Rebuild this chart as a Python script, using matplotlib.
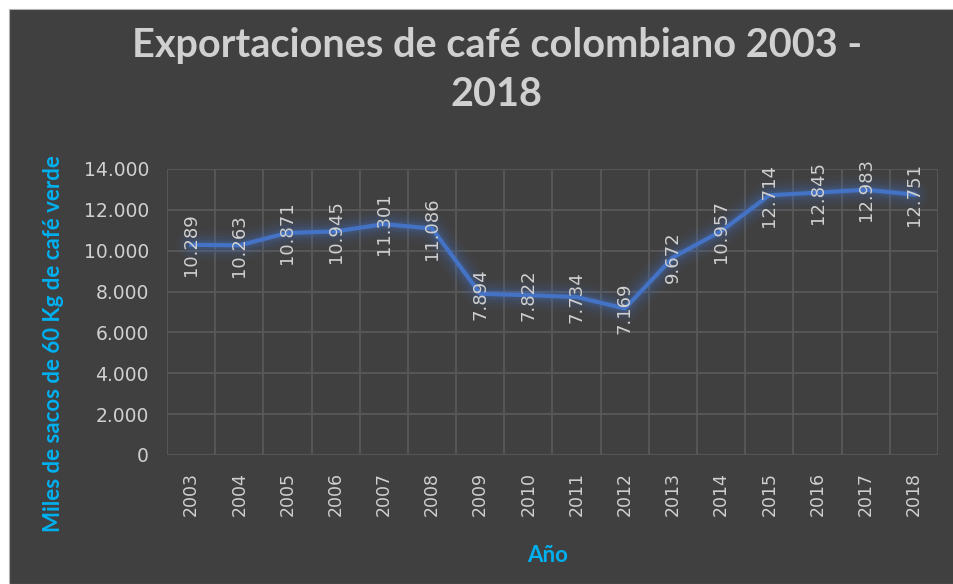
import matplotlib
matplotlib.use("Agg")
import matplotlib.pyplot as plt
from matplotlib.patches import Rectangle
from matplotlib.ticker import FixedLocator, FuncFormatter

# Exportaciones de café colombiano (miles de sacos de 60 Kg)
YEARS = [2003, 2004, 2005, 2006, 2007, 2008, 2009, 2010,
         2011, 2012, 2013, 2014, 2015, 2016, 2017, 2018]
EXPORTS = [10289, 10263, 10871, 10945, 11301, 11086, 7894, 7822,
           7734, 7169, 9672, 10957, 12714, 12845, 12983, 12751]
Y_TICKS = [0, 2000, 4000, 6000, 8000, 10000, 12000, 14000]

BG = "#404040"
GRID = "#595959"
TXT = "#d0d0d0"
LINE = "#4472c4"
AXLBL = "#00b0f0"


def miles(v):
    return f"{int(v):,}".replace(",", ".")


fig = plt.figure(figsize=(9.54, 5.84), dpi=100, facecolor="white")
W, H = 954, 584

# dark chart area with a thin border (white strip top/left like the screenshot)
fig.patches.append(Rectangle((9 / W, 0), 1 - 9 / W, 1 - 9 / H,
                             transform=fig.transFigure, facecolor=BG,
                             edgecolor="#b0b0b0", lw=0.8, zorder=-10))

ax = fig.add_axes([167 / W, 1 - 455 / H, (938 - 167) / W, (455 - 169) / H])
ax.set_facecolor(BG)
x = list(range(len(YEARS)))

# soft glow around the line
for lw, a in [(22, 0.05), (17, 0.06), (13, 0.08), (9, 0.12), (6, 0.16)]:
    ax.plot(x, EXPORTS, color=LINE, lw=lw, alpha=a, solid_capstyle="round",
            solid_joinstyle="round", zorder=2)
ax.plot(x, EXPORTS, color=LINE, lw=3, solid_joinstyle="round", zorder=3)

for xi, v in zip(x, EXPORTS):
    ax.text(xi, v, miles(v), rotation=90, ha="center", va="center",
            color=TXT, fontsize=13, family="DejaVu Sans", zorder=4)

ax.set_xlim(-0.5, len(YEARS) - 0.5)
ax.set_ylim(0, 14000)
ax.yaxis.set_major_locator(FixedLocator(Y_TICKS))
ax.yaxis.set_major_formatter(FuncFormatter(lambda v, p: miles(v)))
ax.set_xticks(x)
ax.set_xticklabels([str(y) for y in YEARS], rotation=90)
ax.xaxis.set_minor_locator(FixedLocator([i - 0.5 for i in range(len(YEARS) + 1)]))

ax.grid(axis="y", which="major", color=GRID, lw=1.3)
ax.grid(axis="x", which="minor", color=GRID, lw=1.3)
ax.set_axisbelow(True)
for s in ax.spines.values():
    s.set_visible(False)

ax.tick_params(axis="y", length=0, pad=13, labelsize=13.5, labelcolor=TXT)
ax.tick_params(axis="x", which="major", length=0, pad=12, labelsize=12.5,
               labelcolor=TXT)
ax.tick_params(axis="x", which="minor", length=0)

ax.set_ylabel("Miles de sacos de 60 Kg de café verde", color=AXLBL,
              fontsize=16, fontweight="bold", family="Lato")
ax.set_xlabel("Año", color=AXLBL, fontsize=16, fontweight="bold",
              family="Lato")
ax.yaxis.set_label_coords(-0.133, 0.39)
ax.xaxis.set_label_coords(0.494, -0.315)

fig.text(497 / W, 1 - 45 / H, "Exportaciones de café colombiano 2003 -",
         ha="center", va="center", color=TXT, fontsize=28.5, fontweight="bold",
         family="Lato")
fig.text(497 / W, 1 - 95 / H, "2018", ha="center", va="center", color=TXT,
         fontsize=28.5, fontweight="bold", family="Lato")

fig.savefig("out.png", dpi=100, facecolor="white")
